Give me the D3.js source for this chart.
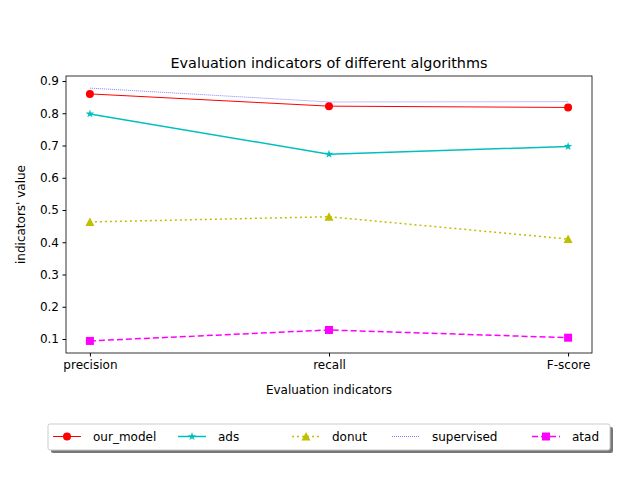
<!DOCTYPE html>
<html><head><meta charset="utf-8">
<script src="https://cdn.jsdelivr.net/npm/d3@7"></script>
<style>body{margin:0;background:#fff}text{font-family:"DejaVu Sans",sans-serif}</style>
</head><body>
<script>
const categories = ["precision", "recall", "F-score"];
const ourModel = [0.860, 0.822, 0.818];
const ads = [0.798, 0.673, 0.697];
const donut = [0.463, 0.479, 0.410];
const supervised = [0.878, 0.835, 0.836];
const atad = [0.094, 0.128, 0.104];
const yTicks = [0.1, 0.2, 0.3, 0.4, 0.5, 0.6, 0.7, 0.8, 0.9];

const series = [
  {name: "our_model", values: ourModel, color: "#ff0000", dash: null, width: 1, marker: "circle"},
  {name: "ads", values: ads, color: "#00bfbf", dash: null, width: 1.5, marker: "star"},
  {name: "donut", values: donut, color: "#bfbf00", dash: "2,3", width: 1.5, marker: "triangle"},
  {name: "supervised", values: supervised, color: "#0000ff", dash: "1,1", width: 0.5, marker: null},
  {name: "atad", values: atad, color: "#ff00ff", dash: "6,3", width: 1.5, marker: "square"}
];

const W = 640, H = 480, L = 66, R = 592, T = 76, B = 353;
const svg = d3.select("body").append("svg").attr("width", W).attr("height", H);

const x = d3.scaleLinear().domain([-0.1, 2.1]).range([L, R]);
const y = d3.scaleLinear().domain([0.9 + (81 - T) / 322.5, 0.1 - (B - 339) / 322.5]).range([T, B]);

svg.append("text").attr("x", (L + R) / 2).attr("y", 68).attr("text-anchor", "middle")
  .attr("font-size", 14.4).text("Evaluation indicators of different algorithms");

const xAxis = svg.append("g").attr("transform", `translate(0,${B})`)
  .call(d3.axisBottom(x).tickValues([0, 1, 2]).tickFormat(i => categories[i]).tickSize(3.5).tickPadding(3.5));
const yAxis = svg.append("g").attr("transform", `translate(${L},0)`)
  .call(d3.axisLeft(y).tickValues(yTicks).tickFormat(d3.format(".1f")).tickSize(3.5).tickPadding(3.5));
[xAxis, yAxis].forEach(a => {
  a.select(".domain").remove();
  a.selectAll("text").attr("font-size", 12).attr("fill", "#000").style("font-family", "DejaVu Sans");
  a.selectAll("line").attr("stroke", "#000");
});
svg.append("rect").attr("x", L).attr("y", T).attr("width", R - L).attr("height", B - T)
  .attr("fill", "none").attr("stroke", "#000").attr("stroke-width", 0.8);

svg.append("text").attr("x", (L + R) / 2).attr("y", 394).attr("text-anchor", "middle")
  .attr("font-size", 12).text("Evaluation indicators");
svg.append("text").attr("transform", `translate(25,${(T + B) / 2}) rotate(-90)`).attr("text-anchor", "middle")
  .attr("font-size", 12).text("indicators' value");

function marker(g, type, cx, cy, color) {
  if (type === "circle") g.append("circle").attr("cx", cx).attr("cy", cy).attr("r", 4).attr("fill", color);
  else if (type === "square") g.append("rect").attr("x", cx - 4).attr("y", cy - 4).attr("width", 8).attr("height", 8).attr("fill", color);
  else if (type === "triangle") g.append("path").attr("transform", `translate(${cx},${cy})`)
    .attr("d", "M0,-4.5L4.5,4L-4.5,4Z").attr("fill", color);
  else if (type === "star") g.append("path").attr("transform", `translate(${cx},${cy})`)
    .attr("d", d3.symbol(d3.symbolStar, 22)()).attr("fill", color);
}

const line = d3.line().x((d, i) => x(i)).y(d => y(d));
series.forEach(s => {
  const g = svg.append("g");
  g.append("path").attr("d", line(s.values)).attr("fill", "none").attr("stroke", s.color)
    .attr("stroke-width", s.width).attr("stroke-dasharray", s.dash);
  if (s.marker) s.values.forEach((v, i) => marker(g, s.marker, x(i), y(v), s.color));
});

// legend
const lg = svg.append("g");
lg.append("rect").attr("x", 51).attr("y", 427).attr("width", 562).attr("height", 26).attr("rx", 2).attr("fill", "#777");
lg.append("rect").attr("x", 48).attr("y", 424).attr("width", 562).attr("height", 26).attr("rx", 2)
  .attr("fill", "#fff").attr("stroke", "#ccc");
const lx = [53, 178, 292, 392, 532];
series.forEach((s, i) => {
  const cy = 436.5;
  lg.append("line").attr("x1", lx[i]).attr("x2", lx[i] + 28).attr("y1", cy).attr("y2", cy)
    .attr("stroke", s.color).attr("stroke-width", s.width).attr("stroke-dasharray", s.dash);
  if (s.marker) marker(lg, s.marker, lx[i] + 14, cy, s.color);
  lg.append("text").attr("x", lx[i] + 40).attr("y", cy + 4.5).attr("font-size", 12).text(s.name);
});
</script>
</body></html>
